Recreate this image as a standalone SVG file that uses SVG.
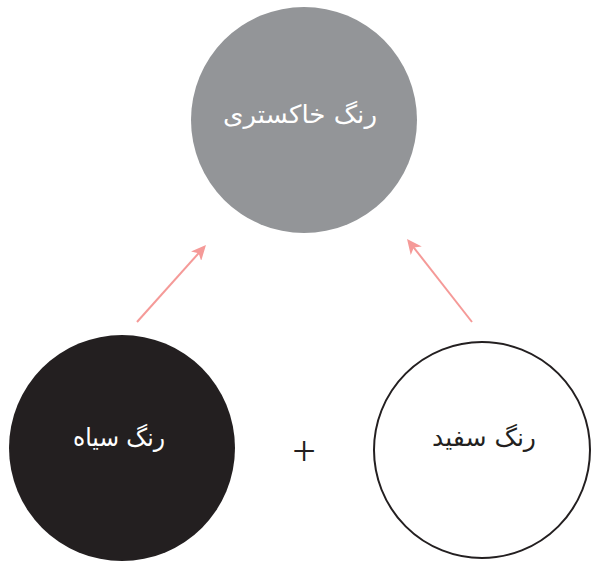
<svg xmlns="http://www.w3.org/2000/svg" width="591" height="561" viewBox="0 0 591 561">
<style>
.lbl{font-family:"DejaVu Sans",sans-serif;font-size:25px;text-anchor:middle;direction:rtl}
.w{fill:#ffffff}
.k{fill:#231f20}
.conn{stroke:#f59a98;stroke-width:2;fill:none}
</style>
<defs>
<marker id="ah" markerUnits="userSpaceOnUse" markerWidth="16" markerHeight="14" refX="11" refY="7" orient="auto" viewBox="0 0 16 14">
<path d="M0,0 L15,7 L0,14 L4,7 Z" fill="#f59a98"/>
</marker>
</defs>
<rect width="591" height="561" fill="#ffffff"/>
<g id="connectors">
<line class="conn" x1="137" y1="322" x2="203.3" y2="248" marker-end="url(#ah)"/>
<line class="conn" x1="472" y1="322" x2="409.5" y2="242.1" marker-end="url(#ah)"/>
</g>
<g id="gray">
<circle cx="304" cy="120" r="113" fill="#939598"/>
<text class="lbl w" x="300" y="123" textLength="154" lengthAdjust="spacingAndGlyphs">رنگ خاکستری</text>
</g>
<g id="black">
<circle cx="122" cy="448" r="113" fill="#231f20"/>
<text class="lbl w" x="119" y="446" textLength="92" lengthAdjust="spacingAndGlyphs">رنگ سیاه</text>
</g>
<g id="white">
<circle cx="482" cy="450" r="108" fill="#ffffff" stroke="#231f20" stroke-width="2"/>
<text class="lbl k" x="484" y="446" textLength="104" lengthAdjust="spacingAndGlyphs">رنگ سفید</text>
</g>
<g id="plus">
<text x="304" y="465" font-family="Liberation Serif, serif" font-size="42" text-anchor="middle" fill="#231f20">+</text>
</g>
</svg>
